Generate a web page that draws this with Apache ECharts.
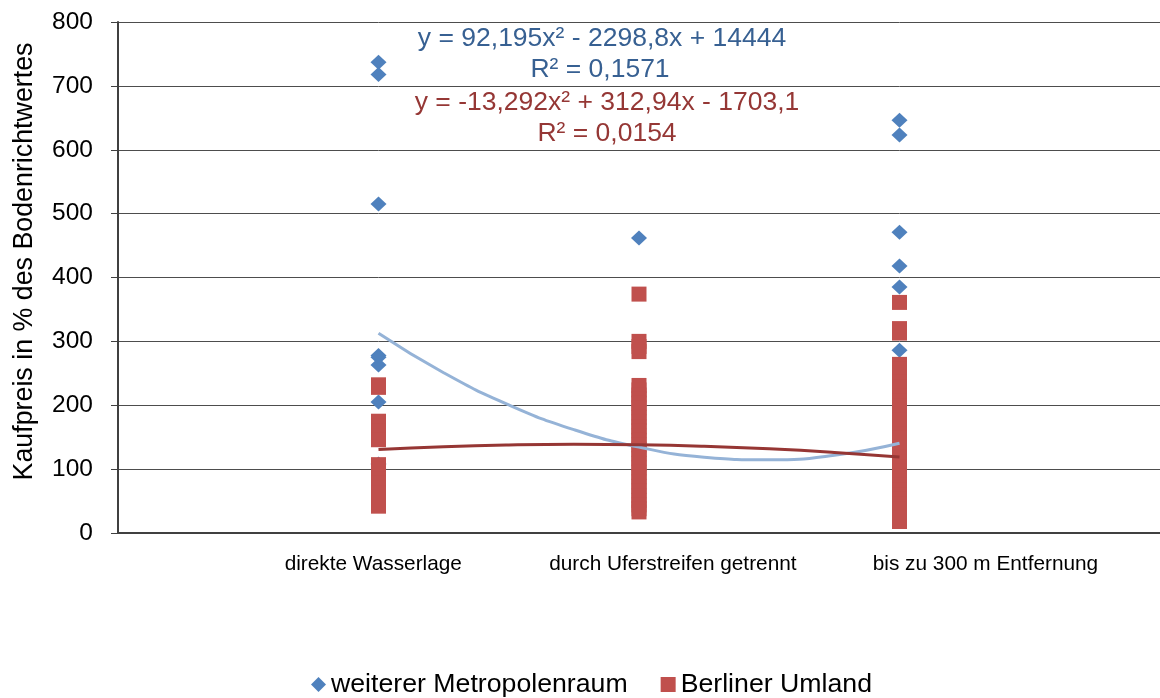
<!DOCTYPE html>
<html>
<head>
<meta charset="utf-8">
<script src="https://cdn.jsdelivr.net/npm/echarts@6/dist/echarts.min.js"></script>
<style>
  html, body { margin: 0; padding: 0; background: #fff; }
  #chart { width: 1160px; height: 698px; }
</style>
</head>
<body>
<div id="chart"></div>
<script>
// Kategorien liegen auf einer Werteachse bei x = 11, 12, 13 (wie in Excel)
var categoryLabels = ['direkte Wasserlage', 'durch Uferstreifen getrennt', 'bis zu 300 m Entfernung'];
var categoryX = [11, 12, 13];
var labelX = [10.98, 12.13, 13.33];

// weiterer Metropolenraum (blau)
var blueLeft = [737, 718, 515, 278, 275, 263, 205, 108];
var blueMid = [462];
var blueRight = [646, 623, 471, 418, 385, 286];

// Berliner Umland (rot)
var redLeft = [232, 228, 175, 168, 160, 152, 146, 107, 100, 92, 85, 78, 70, 63, 42];
var redMid = [374, 300, 292, 284, 231, 224, 216, 210, 203, 196, 188, 181, 174, 166, 160, 152,
  145, 138, 131, 124, 117, 109, 102, 95, 88, 80, 73, 66, 58, 51, 44, 38, 33];
var redRight = [361, 320, 313, 264, 257, 250, 243, 236, 228, 221, 214, 206, 199, 192, 184, 177,
  170, 162, 155, 148, 141, 133, 126, 119, 111, 104, 97, 89, 82, 75, 67, 60, 53, 45, 38, 31, 24, 18];

// Trendlinien (Polynom 2. Grades)
var trendX = [11, 11.25, 11.5, 11.75, 12, 12.25, 12.5, 12.75, 13];
var blueTrend = [312.8, 250.9, 200.6, 161.8, 134.5, 118.7, 114.5, 121.8, 140.6];
var redTrend = [130.9, 135.2, 137.8, 138.8, 138.1, 135.8, 131.8, 126.1, 118.8];

var trendTexts = [
  'y = 92,195x² - 2298,8x + 14444',
  'R² = 0,1571',
  'y = -13,292x² + 312,94x - 1703,1',
  'R² = 0,0154'
];

var FONT = 'Liberation Sans, Arial, sans-serif';

function pairs(xs, ys) {
  return ys.map(function(v, i) { return [xs[i], v]; });
}

function column(x, values) {
  return values.map(function(v) { return [x, v]; });
}

function trendLabel(text, x, y, color) {
  return {
    type: 'text',
    x: x,
    y: y,
    style: { text: text, align: 'center', verticalAlign: 'middle', fontSize: 26.5, fontFamily: FONT, fill: color }
  };
}

var blueData = column(categoryX[0], blueLeft)
  .concat(column(categoryX[1], blueMid))
  .concat(column(categoryX[2], blueRight));
var redData = column(categoryX[0], redLeft)
  .concat(column(categoryX[1], redMid))
  .concat(column(categoryX[2], redRight));

var chart = echarts.init(document.getElementById('chart'));

chart.setOption({
  animation: false,
  backgroundColor: '#fff',
  grid: { left: 118, top: 22, width: 1047, height: 511 },
  xAxis: {
    type: 'value',
    min: 10,
    max: 14,
    splitLine: { show: false },
    axisLine: { show: true, lineStyle: { color: '#404040', width: 2 } },
    axisTick: { show: false },
    axisLabel: {
      customValues: labelX,
      margin: 21,
      fontSize: 20.8,
      fontFamily: FONT,
      color: '#000',
      formatter: function(v) {
        for (var i = 0; i < labelX.length; i++) {
          if (Math.abs(labelX[i] - v) < 0.01) return categoryLabels[i];
        }
        return '';
      }
    }
  },
  yAxis: {
    type: 'value',
    min: 0,
    max: 800,
    interval: 100,
    name: 'Kaufpreis in % des Bodenrichtwertes',
    nameLocation: 'middle',
    nameRotate: 90,
    nameGap: 80,
    nameTextStyle: { fontSize: 26.8, fontFamily: FONT, color: '#000', padding: [0, 0, 0, 32] },
    axisLine: { show: true, lineStyle: { color: '#404040', width: 2 } },
    axisTick: { show: true, length: 7, lineStyle: { color: '#404040' } },
    axisLabel: { fontSize: 24.5, fontFamily: FONT, color: '#000', margin: 25 },
    splitLine: { show: true, lineStyle: { color: '#4d4d4d', width: 1 } }
  },
  legend: {
    left: 306,
    top: 666,
    itemGap: 33,
    itemWidth: 15,
    itemHeight: 15,
    textStyle: { fontSize: 26.7, fontFamily: FONT, color: '#000' },
    data: [
      { name: 'weiterer Metropolenraum', icon: 'diamond' },
      { name: 'Berliner Umland', icon: 'rect' }
    ]
  },
  series: [
    {
      name: 'weiterer Metropolenraum',
      type: 'scatter',
      symbol: 'diamond',
      symbolSize: [16, 15],
      itemStyle: { color: '#4f81bd', opacity: 1 },
      data: blueData,
      z: 2
    },
    {
      name: 'Berliner Umland',
      type: 'scatter',
      symbol: 'rect',
      symbolSize: 15,
      itemStyle: { color: '#c0504d', opacity: 1 },
      data: redData,
      z: 3
    },
    {
      name: 'Trend blau',
      type: 'line',
      smooth: true,
      showSymbol: false,
      lineStyle: { color: '#95b3d7', width: 3 },
      data: pairs(trendX, blueTrend),
      z: 4
    },
    {
      name: 'Trend rot',
      type: 'line',
      smooth: true,
      showSymbol: false,
      lineStyle: { color: '#963634', width: 3 },
      data: pairs(trendX, redTrend),
      z: 5
    }
  ],
  graphic: [
    trendLabel(trendTexts[0], 602, 39, '#376092'),
    trendLabel(trendTexts[1], 600, 70, '#376092'),
    trendLabel(trendTexts[2], 607, 103, '#953735'),
    trendLabel(trendTexts[3], 607, 134, '#953735')
  ]
});
</script>
</body>
</html>
